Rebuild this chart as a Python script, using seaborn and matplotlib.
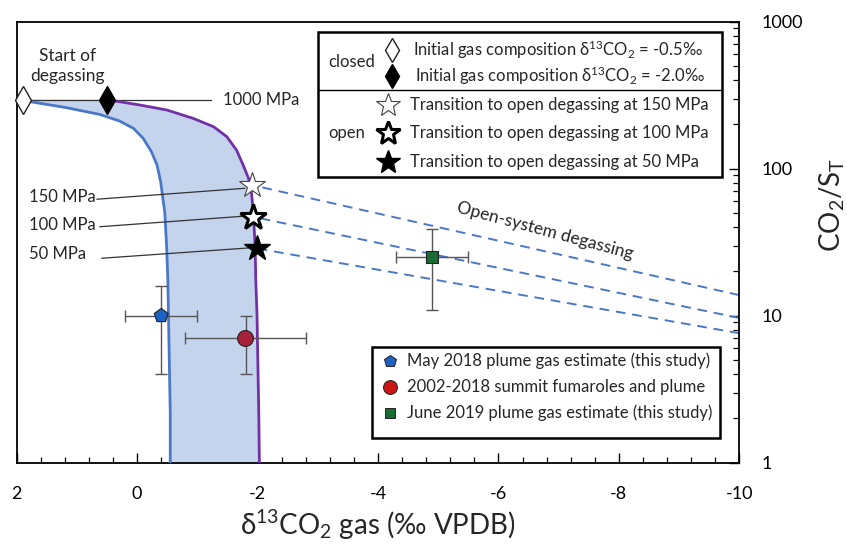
import numpy as np
import seaborn as sns
import matplotlib.pyplot as plt
from matplotlib.patches import Rectangle
from matplotlib.ticker import FixedLocator, NullFormatter, MultipleLocator

# closed-system degassing curves (d13C, CO2/ST)
blue_x = [1.9, 1.78, 1.17, 0.62, 0.29, 0.06, -0.10, -0.24, -0.33, -0.39,
          -0.46, -0.49, -0.51, -0.52, -0.53, -0.54, -0.55, -0.55]
blue_y = [295, 286, 260, 234, 211, 188, 161, 130, 106, 82,
          50, 29.5, 17.5, 10.4, 6.15, 3.65, 2.18, 1.0]
purple_x = [0.5, -0.05, -0.49, -0.93, -1.27, -1.49, -1.65, -1.76, -1.85, -1.90,
            -1.93, -1.96, -1.97, -1.99, -2.0, -2.01, -2.02, -2.03]
purple_y = [295, 271, 251, 220, 193, 165, 134, 106, 86, 68,
            50, 29.5, 17.5, 10.4, 6.15, 3.65, 2.18, 1.0]

# start points
diamond_x = [1.9, 0.5]
diamond_y = [295, 295]

# transitions to open degassing
star_x = [-1.90, -1.93, -1.985]
star_y = [77.5, 47, 28.7]
star_labels = ["150 MPa", "100 MPa", "50 MPa"]
open_end_x = -10
open_end_y = [13.8, 9.65, 7.6]

# measurements
obs_labels = ["May 2018 plume gas estimate (this study)",
              "2002-2018 summit fumaroles and plume",
              "June 2019 plume gas estimate (this study)"]
obs_x = [-0.4, -1.8, -4.9]
obs_y = [10, 7, 25]
obs_xerr = [0.6, 1.0, 0.6]
obs_yerr = [6, 3, 14]
obs_colors = ["#1c62c4", "#a8213a", "#1a6a33"]
obs_leg_colors = ["#1c62c4", "#cc1515", "#1a6a33"]
obs_markers = ["p", "o", "s"]

sns.set_theme(style="ticks")
plt.rcParams['font.family'] = ['Lato', 'DejaVu Sans']
plt.rcParams['mathtext.fontset'] = 'custom'
plt.rcParams['mathtext.rm'] = 'Lato'
plt.rcParams['mathtext.it'] = 'Lato:italic'

fig = plt.figure(figsize=(8.47, 5.44), dpi=100)
ax = fig.add_axes([0.0197, 0.1494, 0.8532, 0.8107])

blue = "#4a78c8"
purple = "#7330a6"

ax.fill(np.concatenate([blue_x, purple_x[::-1]]),
        np.concatenate([blue_y, purple_y[::-1]]),
        color="#c5d4ed", lw=0, zorder=1)
sns.lineplot(x=blue_x, y=blue_y, sort=False, estimator=None, color=blue, lw=2, ax=ax, zorder=3)
sns.lineplot(x=purple_x, y=purple_y, sort=False, estimator=None, color=purple, lw=2, ax=ax, zorder=3)

for sx, sy, ey in zip(star_x, star_y, open_end_y):
    sns.lineplot(x=[sx, open_end_x], y=[sy, ey], color=blue, lw=1.4,
                 linestyle=(0, (5, 3.5)), ax=ax, zorder=2)

# leader lines
ax.plot([diamond_x[0], -1.23], [diamond_y[0], diamond_y[0]], color="#333333", lw=0.9, zorder=2)
lead_start = [(0.67, 62), (0.62, 40.3), (0.59, 24.6)]
lead_end = [(-1.79, 73.6), (-1.82, 47.7), (-1.90, 29.0)]
for (x0, y0), (x1, y1) in zip(lead_start, lead_end):
    ax.plot([x0, x1], [y0, y1], color="#333333", lw=0.9, zorder=4)

# start diamonds
ax.plot(diamond_x[0], diamond_y[0], marker="d", ms=14, mfc="white", mec="#222222", mew=1, zorder=6, clip_on=False)
ax.plot(diamond_x[1], diamond_y[1], marker="d", ms=14, mfc="black", mec="black", mew=1, zorder=6)

# stars
star_style = [dict(mfc="white", mec="#444444", mew=0.8),
              dict(mfc="white", mec="black", mew=2.2),
              dict(mfc="black", mec="black", mew=1)]
for sx, sy, st in zip(star_x, star_y, star_style):
    ax.plot(sx, sy, marker="*", ms=19, zorder=6, **st)

# observations with error bars
for i in range(3):
    ax.errorbar(obs_x[i], obs_y[i], xerr=obs_xerr[i], yerr=obs_yerr[i], fmt="none",
                ecolor="#555555", elinewidth=1, capsize=4, capthick=1, zorder=5)
sns.scatterplot(x=obs_x, y=obs_y, hue=obs_labels, style=obs_labels,
                palette=obs_colors, markers=obs_markers, s=[110, 130, 80],
                edgecolor="#222222", linewidth=0.8, legend=False, ax=ax, zorder=7)

ax.set_yscale("log")
ax.set_xlim(2, -10)
ax.set_ylim(1, 1000)

# ticks
ax.xaxis.set_major_locator(FixedLocator([2, 0, -2, -4, -6, -8, -10]))
ax.xaxis.set_minor_locator(MultipleLocator(0.4))
ax.set_xticklabels(["2", "0", "-2", "-4", "-6", "-8", "-10"])
ax.tick_params(axis="x", which="major", direction="in", length=7, width=1, pad=17, labelsize=13, colors="black")
ax.tick_params(axis="x", which="minor", direction="in", length=4, width=0.9, colors="black")
ax.yaxis.tick_right()
ax.set_yticks([1, 10, 100, 1000])
ax.set_yticklabels(["1", "10", "100", "1000"])
ax.yaxis.set_minor_formatter(NullFormatter())
ax.tick_params(axis="y", which="major", direction="in", length=7, width=1, pad=16, labelsize=13,
               left=False, right=True, colors="black")
ax.tick_params(axis="y", which="minor", direction="in", length=4, width=0.9, left=False, right=True, colors="black")
for sp in ax.spines.values():
    sp.set_visible(True)
    sp.set_color("black")
    sp.set_linewidth(1.3)

ax.set_xlabel(r"$\mathregular{δ^{13}CO_2}$ gas (‰ VPDB)", fontsize=20, labelpad=4)
ax.yaxis.set_label_position("right")
ax.set_ylabel(r"$\mathregular{CO_2/S_T}$", fontsize=20)
ax.yaxis.set_label_coords(1.108, 0.585)

# annotations
ax.text(1.16, 500, "Start of\ndegassing", ha="center", va="center", fontsize=12.5, linespacing=1.3)
ax.text(-1.42, 295, "1000 MPa", ha="left", va="center", fontsize=12)
label_pos = [(1.79, 64.5), (1.79, 41.4), (1.79, 26.3)]
for (tx, ty), lab in zip(label_pos, star_labels):
    ax.text(tx, ty, lab, ha="left", va="center", fontsize=12)
ax.text(-6.77, 37.7, "Open-system degassing", ha="center", va="center", fontsize=12.5, rotation=-15)

# legend 1 (closed / open)
T = ax.transAxes
ax.add_patch(Rectangle((0.417, 0.648), 0.559, 0.3286, transform=T, fill=True, fc="white",
                       ec="black", lw=1.8, zorder=8))
ax.plot([0.417, 0.976], [0.845, 0.845], transform=T, color="black", lw=1, zorder=9)
ax.text(0.464, 0.908, "closed", transform=T, ha="center", va="center", fontsize=12, zorder=9)
ax.text(0.457, 0.748, "open", transform=T, ha="center", va="center", fontsize=12, zorder=9)
leg1_y = [0.936, 0.877, 0.811, 0.748, 0.682]
leg1_text = [r"Initial gas composition $\mathregular{δ^{13}CO_2}$ = -0.5‰",
             r"Initial gas composition $\mathregular{δ^{13}CO_2}$ = -2.0‰",
             "Transition to open degassing at 150 MPa",
             "Transition to open degassing at 100 MPa",
             "Transition to open degassing at 50 MPa"]
leg1_style = [dict(marker="d", ms=12, mfc="white", mec="#222222", mew=1),
              dict(marker="d", ms=12, mfc="black", mec="black", mew=1)] + \
             [dict(marker="*", ms=18, **st) for st in star_style]
leg1_mx = [0.519, 0.519, 0.514, 0.514, 0.514]
leg1_tx = [0.549, 0.551, 0.544, 0.544, 0.544]
for y, txt, st, mx, tx in zip(leg1_y, leg1_text, leg1_style, leg1_mx, leg1_tx):
    ax.plot(mx, y, transform=T, zorder=9, **st)
    ax.text(tx, y, txt, transform=T, ha="left", va="center", fontsize=12, zorder=9)

# legend 2 (observations)
ax.add_patch(Rectangle((0.4917, 0.0560), 0.4813, 0.2067, transform=T, fill=True, fc="white",
                       ec="black", lw=1.8, zorder=8))
leg2_y = [0.2313, 0.1723, 0.1133]
for y, lab, c, m, s in zip(leg2_y, obs_labels, obs_leg_colors, obs_markers, [9, 10, 7.5]):
    ax.plot(0.517, y, transform=T, marker=m, ms=s, mfc=c, mec="#222222", mew=0.7, zorder=9)
    ax.text(0.540, y, lab, transform=T, ha="left", va="center", fontsize=12, zorder=9)

fig.savefig("out.png", dpi=100)
